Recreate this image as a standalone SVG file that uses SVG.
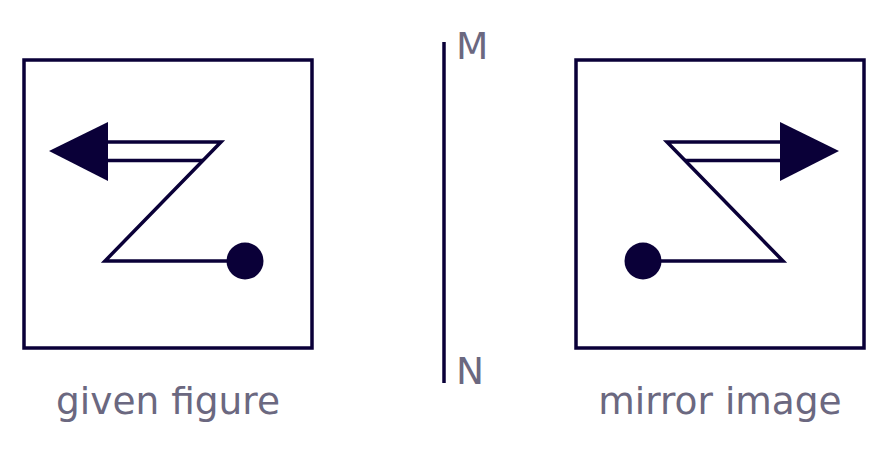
<svg xmlns="http://www.w3.org/2000/svg" width="888" height="453" viewBox="0 0 888 453">
<style>
.ln{fill:none;stroke:#0a0038;stroke-width:3.5;stroke-linejoin:miter}
.fl{fill:#0a0038;stroke:none}
.tx{font-family:"DejaVu Sans",sans-serif;font-size:37.5px;fill:#6b6880}
</style>
<rect width="888" height="453" fill="#ffffff"/>
<g id="given-figure">
<rect class="ln" x="24" y="60" width="288" height="288"/>
<path class="ln" d="M107,142 H221 L105,261 H245"/>
<path class="ln" d="M107,160.5 H203"/>
<polygon class="fl" points="49,151 108,122 108,181"/>
<circle class="fl" cx="245" cy="261" r="18.5"/>
<text class="tx" x="168" y="414" text-anchor="middle">given figure</text>
</g>
<g id="mirror-line">
<line class="ln" x1="444" y1="42" x2="444" y2="383"/>
<text class="tx" x="456" y="59">M</text>
<text class="tx" x="456" y="384">N</text>
</g>
<g id="mirror-image" transform="translate(888,0) scale(-1,1)">
<rect class="ln" x="24" y="60" width="288" height="288"/>
<path class="ln" d="M107,142 H221 L105,261 H245"/>
<path class="ln" d="M107,160.5 H203"/>
<polygon class="fl" points="49,151 108,122 108,181"/>
<circle class="fl" cx="245" cy="261" r="18.5"/>
</g>
<text class="tx" x="720" y="414" text-anchor="middle">mirror image</text>
<g id="connectors"></g>
</svg>
